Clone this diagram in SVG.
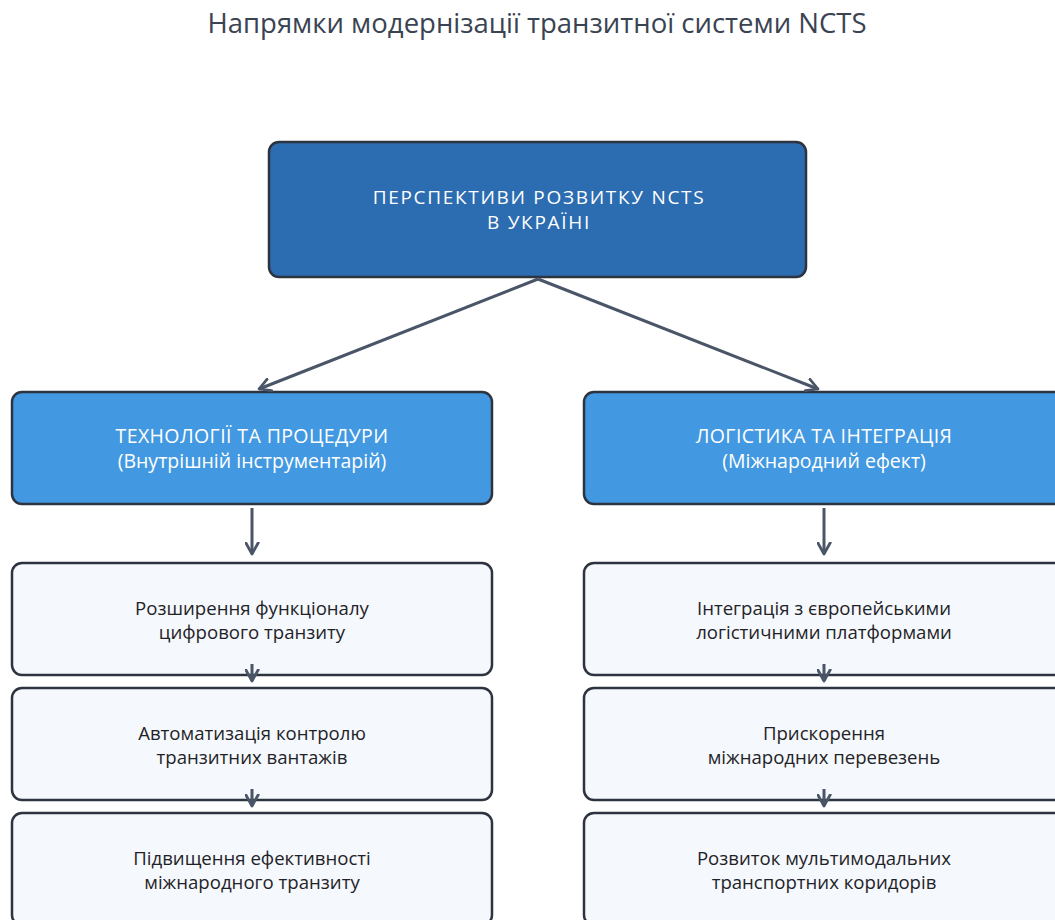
<svg xmlns="http://www.w3.org/2000/svg" width="1055" height="920" viewBox="0 0 1055 920">
<style>
.title{font-family:"Open Sans",Roboto,sans-serif;font-size:27.5px;fill:#3a4352;text-anchor:middle}
.box{stroke:#2d3440;stroke-width:2.5}
.top{fill:#2c6cb0}
.mid{fill:#4299e1}
.leaf{fill:#f5f8fc}
.tw{font-family:"Open Sans",Roboto,sans-serif;font-size:19px;letter-spacing:1.7px;fill:#ffffff;text-anchor:middle}
.tm{font-family:"Open Sans",Roboto,sans-serif;font-size:19.5px;fill:#ffffff;text-anchor:middle}
.caps{letter-spacing:0.4px}
.tl{font-family:"Open Sans",Roboto,sans-serif;font-size:18.6px;fill:#1f2328;text-anchor:middle}
.edge{stroke:#4a5568;stroke-width:3;fill:none;marker-end:url(#ah)}
</style>
<defs>
<marker id="ah" viewBox="0 0 12 12" refX="10" refY="6" markerWidth="5" markerHeight="5" orient="auto" markerUnits="strokeWidth">
<path d="M1,1 L10,6 L1,11" fill="none" stroke="#4a5568" stroke-width="2.2" stroke-linecap="round" stroke-linejoin="round"/>
</marker>
</defs>
<rect width="1055" height="920" fill="#ffffff"/>
<text class="title" x="537" y="33">Напрямки модернізації транзитної системи NCTS</text>
<g id="root">
<rect class="box top" x="269" y="142" width="537" height="135" rx="10"/>
<text class="tw" x="539" y="204">ПЕРСПЕКТИВИ РОЗВИТКУ NCTS</text>
<text class="tw" x="539" y="229">В УКРАЇНІ</text>
</g>
<g id="tech">
<rect class="box mid" x="12" y="392" width="480" height="112" rx="10"/>
<text class="tm caps" x="252" y="443">ТЕХНОЛОГІЇ ТА ПРОЦЕДУРИ</text>
<text class="tm" x="252" y="468">(Внутрішній інструментарій)</text>
</g>
<g id="logistics">
<rect class="box mid" x="584" y="392" width="480" height="112" rx="10"/>
<text class="tm caps" x="824" y="443">ЛОГІСТИКА ТА ІНТЕГРАЦІЯ</text>
<text class="tm" x="824" y="468">(Міжнародний ефект)</text>
</g>
<g id="t1">
<rect class="box leaf" x="12" y="563" width="480" height="112" rx="10"/>
<text class="tl" x="252" y="615">Розширення функціоналу</text>
<text class="tl" x="252" y="639">цифрового транзиту</text>
</g>
<g id="t2">
<rect class="box leaf" x="12" y="688" width="480" height="112" rx="10"/>
<text class="tl" x="252" y="740">Автоматизація контролю</text>
<text class="tl" x="252" y="764">транзитних вантажів</text>
</g>
<g id="t3">
<rect class="box leaf" x="12" y="813" width="480" height="112" rx="10"/>
<text class="tl" x="252" y="865">Підвищення ефективності</text>
<text class="tl" x="252" y="889">міжнародного транзиту</text>
</g>
<g id="l1">
<rect class="box leaf" x="584" y="563" width="480" height="112" rx="10"/>
<text class="tl" x="824" y="615">Інтеграція з європейськими</text>
<text class="tl" x="824" y="639">логістичними платформами</text>
</g>
<g id="l2">
<rect class="box leaf" x="584" y="688" width="480" height="112" rx="10"/>
<text class="tl" x="824" y="740">Прискорення</text>
<text class="tl" x="824" y="764">міжнародних перевезень</text>
</g>
<g id="l3">
<rect class="box leaf" x="584" y="813" width="480" height="112" rx="10"/>
<text class="tl" x="824" y="865">Розвиток мультимодальних</text>
<text class="tl" x="824" y="889">транспортних коридорів</text>
</g>
<g id="connectors">
<line class="edge" x1="538" y1="279" x2="259" y2="389"/>
<line class="edge" x1="538" y1="279" x2="818" y2="389"/>
<line class="edge" x1="252" y1="508" x2="252" y2="554"/>
<line class="edge" x1="824" y1="508" x2="824" y2="554"/>
<line class="edge" x1="252" y1="664" x2="252" y2="681"/>
<line class="edge" x1="252" y1="789" x2="252" y2="806"/>
<line class="edge" x1="824" y1="664" x2="824" y2="681"/>
<line class="edge" x1="824" y1="789" x2="824" y2="806"/>
</g>
</svg>
